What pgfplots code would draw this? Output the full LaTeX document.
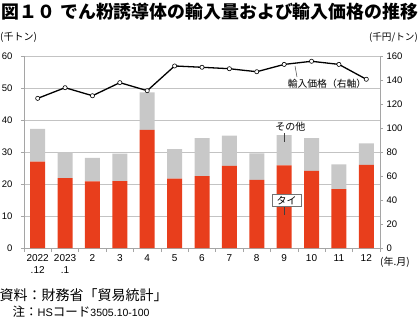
\documentclass[border=0pt]{standalone}
\usepackage{fontspec}
\setmainfont{Liberation Sans}
\newfontfamily\cjk{Noto Sans CJK JP}
\usepackage{pgfplots}
\pgfplotsset{compat=1.18}
\definecolor{tred}{RGB}{232,62,28}
\definecolor{ogray}{RGB}{200,200,200}
\definecolor{axgray}{RGB}{165,165,165}
\definecolor{grgray}{RGB}{195,195,195}
\begin{document}
\begin{tikzpicture}
\useasboundingbox (0,0) rectangle (420pt,-324pt);
\begin{axis}[
  at={(24pt,-248pt)}, anchor=south west,
  width=356pt, height=192pt, scale only axis,
  xmin=-0.5, xmax=12.5, ymin=0, ymax=60,
  ybar stacked, bar width=15pt,
  axis x line*=bottom, axis y line*=left,
  x axis line style={draw=axgray, line width=0.8pt, -},
  y axis line style={draw=axgray, line width=0.8pt, -},
  xtick={0,...,12},
  xticklabels={{2022\\.12},{2023\\.1},2,3,4,5,6,7,8,9,10,11,12},
  xticklabel style={align=center, font=\fontsize{10}{12}\selectfont},
  major x tick style={draw=none},
  minor xtick={-0.5,0.5,...,12.5},
  minor x tick style={draw=axgray, line width=0.6pt},
  minor tick length=4pt,
  ytick={0,10,...,60},
  yticklabel style={font=\fontsize{9.5}{10}\selectfont, xshift=-5pt},
  major y tick style={draw=axgray, line width=0.6pt},
  major tick length=3pt,
  tick align=outside,
  ymajorgrids, grid style={draw=grgray, line width=0.6pt},
  /pgf/number format/assume math mode=true,
]
\addplot[fill=tred, draw=none] coordinates {(0,27.0) (1,21.8) (2,20.8) (3,20.9) (4,36.9) (5,21.7) (6,22.5) (7,25.7) (8,21.3) (9,25.8) (10,24.1) (11,18.4) (12,26.0)};
\addplot[fill=ogray, draw=none] coordinates {(0,10.2) (1,8.1) (2,7.4) (3,8.6) (4,11.7) (5,9.2) (6,11.8) (7,9.4) (8,8.3) (9,9.5) (10,10.2) (11,7.7) (12,6.7)};
\end{axis}
\begin{axis}[
  at={(24pt,-248pt)}, anchor=south west,
  width=356pt, height=192pt, scale only axis,
  xmin=-0.5, xmax=12.5, ymin=0, ymax=160,
  axis x line=none, axis y line*=right,
  y axis line style={draw=axgray, line width=0.8pt, -},
  ytick={0,20,...,160},
  yticklabel style={font=\fontsize{9.5}{10}\selectfont},
  major y tick style={draw=axgray, line width=0.6pt},
  major tick length=3pt, tick align=outside,
  /pgf/number format/assume math mode=true,
]
\addplot[black, line width=1.3pt, mark=*, mark size=2.1pt, mark options={fill=white, draw=black, line width=0.6pt}] coordinates {(0,124.7) (1,133.6) (2,126.9) (3,137.8) (4,131.1) (5,151.7) (6,150.6) (7,149.4) (8,146.9) (9,153.0) (10,155.6) (11,153.0) (12,140.6)};
\end{axis}
% titles and labels
\node[anchor=west, inner sep=0pt, font=\cjk\bfseries\fontsize{17.9}{18}\selectfont] at (1pt,-12pt) {図１０};
\node[anchor=west, inner sep=0pt, font=\cjk\bfseries\fontsize{17.9}{18}\selectfont] at (60pt,-12pt) {でん粉誘導体の輸入量および輸入価格の推移};
\node[anchor=west, inner sep=0pt, font=\cjk\fontsize{10}{11}\selectfont] at (0pt,-37pt) {(千トン)};
\node[anchor=east, inner sep=0pt, font=\cjk\fontsize{9.6}{11}\selectfont] at (418pt,-37pt) {(千円/トン)};
\node[anchor=west, inner sep=0pt, font=\cjk\fontsize{10}{11}\selectfont] at (380pt,-262pt) {(年.月)};
% annotations
\draw[black!75, line width=0.5pt] (295pt,-66pt) -- (297pt,-77pt);
\node[inner sep=0pt, font=\cjk\fontsize{9.8}{10}\selectfont] at (327pt,-83.5pt) {輸入価格（右軸）};
\node[inner sep=0pt, font=\cjk\fontsize{10}{11}\selectfont] at (290.3pt,-126.5pt) {その他};
\draw[black!75, line width=0.5pt] (284pt,-133pt) -- (284pt,-142pt);
\node[draw=black!55, fill=white, line width=0.5pt, inner xsep=4.5pt, inner ysep=1.5pt, font=\cjk\fontsize{10}{11}\selectfont] at (286.7pt,-200.3pt) {タイ};
\draw[black!75, line width=0.5pt] (284pt,-207pt) -- (284pt,-215pt);
% source
\node[anchor=west, inner sep=0pt, font=\cjk\fontsize{14}{15}\selectfont] at (-0.5pt,-295pt) {資料：財務省「貿易統計」};
\node[anchor=west, inner sep=0pt] at (12.5pt,-311.5pt) {{\cjk\fontsize{12.5}{14}\selectfont 注：}{\fontsize{11}{12}\selectfont HS}{\cjk\fontsize{12.5}{14}\selectfont コード}{\fontsize{10.5}{12}\selectfont 3505.10-100}};
\end{tikzpicture}
\end{document}
